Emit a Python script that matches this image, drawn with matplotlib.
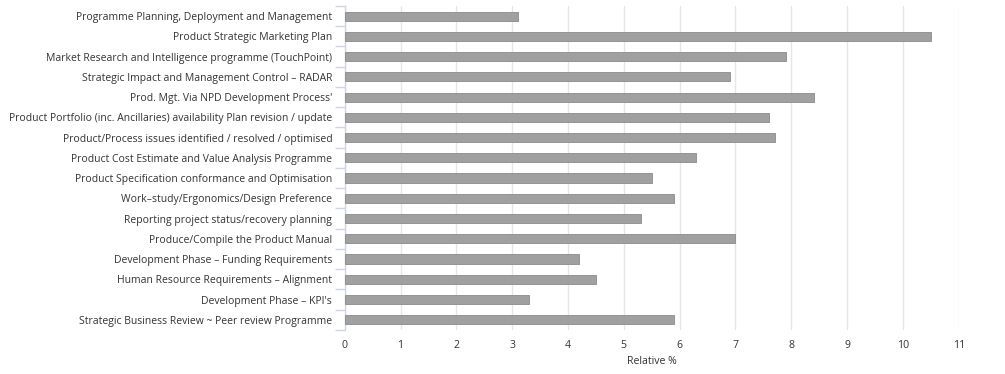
import matplotlib
matplotlib.use("Agg")
import matplotlib.pyplot as plt
import numpy as np

CATEGORIES = [
    "Programme Planning, Deployment and Management",
    "Product Strategic Marketing Plan",
    "Market Research and Intelligence programme (TouchPoint)",
    "Strategic Impact and Management Control – RADAR",
    "Prod. Mgt. Via NPD Development Process'",
    "Product Portfolio (inc. Ancillaries) availability Plan revision / update",
    "Product/Process issues identified / resolved / optimised",
    "Product Cost Estimate and Value Analysis Programme",
    "Product Specification conformance and Optimisation",
    "Work–study/Ergonomics/Design Preference",
    "Reporting project status/recovery planning",
    "Produce/Compile the Product Manual",
    "Development Phase – Funding Requirements",
    "Human Resource Requirements – Alignment",
    "Development Phase – KPI's",
    "Strategic Business Review ~ Peer review Programme",
]
VALUES = [3.1, 10.5, 7.9, 6.9, 8.4, 7.6, 7.7, 6.3, 5.5, 5.9, 5.3, 7.0, 4.2, 4.5, 3.3, 5.9]
X_TICKS = list(range(0, 12))

TEXT = "#333333"
BAR = "#a0a0a0"
AXIS = "#ccd6eb"
GRID = "#e6e6e6"

plt.rcParams["font.family"] = ["Open Sans", "DejaVu Sans"]

fig = plt.figure(figsize=(10.05, 3.74), dpi=100)
ax = fig.add_axes([0.343, 0.118, 0.611, 0.866])

y = np.arange(len(CATEGORIES))
ax.barh(y, VALUES, height=0.45, color=BAR, edgecolor="#8a8a8a", linewidth=0.6, zorder=3)

ax.set_ylim(len(CATEGORIES) - 0.5, -0.5)
ax.set_xlim(0, 11)
ax.set_yticks(y)
ax.set_yticklabels(CATEGORIES, fontsize=7.45, color=TEXT)
ax.set_yticks(np.arange(-0.5, len(CATEGORIES), 1.0), minor=True)
ax.tick_params(axis="y", which="major", length=0, pad=9)
ax.tick_params(axis="y", which="minor", length=7, color=AXIS, width=1)

ax.set_xticks(X_TICKS)
ax.tick_params(axis="x", length=0, labelsize=7.6, labelcolor=TEXT, pad=7)
ax.xaxis.grid(True, color=GRID, linewidth=1, zorder=0)
ax.set_xlabel("Relative %", fontsize=7.6, color=TEXT, labelpad=4)

for side in ["top", "right", "bottom"]:
    ax.spines[side].set_visible(False)
ax.spines["left"].set_color(AXIS)
ax.spines["left"].set_linewidth(1)

fig.savefig("out.png", dpi=100, facecolor="white")
